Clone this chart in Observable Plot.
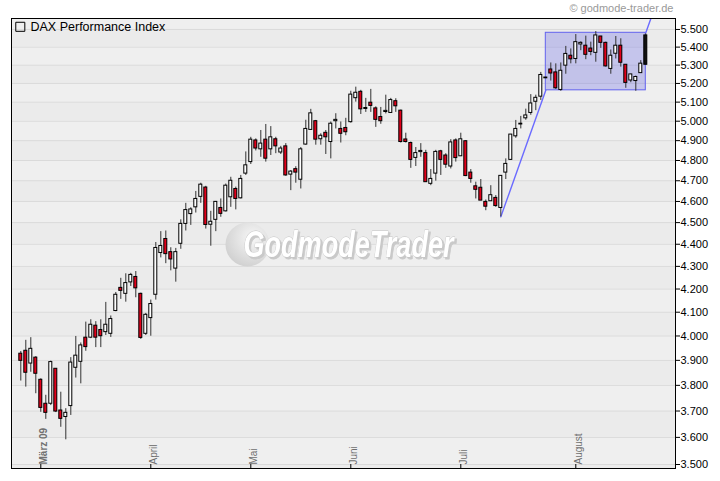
<!DOCTYPE html>
<html>
<head>
<meta charset="utf-8">
<script src="https://cdn.jsdelivr.net/npm/d3@7"></script>
<script src="https://cdn.jsdelivr.net/npm/@observablehq/plot@0.6"></script>
<style>
  body { margin: 0; background: #ffffff; }
  #chart svg { display: block; }
</style>
</head>
<body>
<div id="chart"></div>
<script>
// ---- Data (DAX daily candles, 24 Feb 2009 – 21 Aug 2009, one entry per trading day) ----
const openV = [
  3927,3939,3887,3911,3822,3728,3728,3866,3702,3677,
  3719,3870,3894,3993,3993,4043,4025,4016,4009,4105,
  4205,4179,4229,4253,4179,4009,4075,4175,4360,4424,
  4364,4290,4402,4494,4540,4572,4622,4667,4490,4513,
  4569,4553,4620,4660,4615,4735,4792,4901,4856,4905,
  4856,4907,4840,4871,4730,4757,4705,4880,4955,5000,
  4907,4940,4893,5000,4960,4965,4995,5121,5155,5064,
  5097,5067,5022,5048,5043,5105,5055,4906,4888,4813,
  4842,4837,4685,4735,4846,4825,4770,4901,4821,4897,
  4740,4673,4666,4598,4601,4617,4569,4740,4803,4922,
  4983,5015,5043,5102,5129,5228,5276,5260,5165,5297,
  5352,5334,5415,5408,5392,5368,5460,5424,5279,5363,
  5408,5302,5216,5213,5256,5302
];
const highV = [
  3936,3982,3993,3915,3826,3761,3897,3867,3773,3709,
  3911,3998,3971,4058,4068,4060,4068,4142,4084,4185,
  4247,4267,4269,4277,4182,4095,4152,4408,4458,4461,
  4384,4381,4513,4591,4570,4648,4688,4673,4553,4600,
  4612,4684,4717,4669,4726,4843,4917,4909,4952,4983,
  4972,4917,4871,4885,4750,4769,4865,5005,5062,5004,
  4935,4952,4996,5039,4996,5015,5158,5180,5163,5120,
  5168,5075,5072,5137,5120,5118,5058,4938,4893,4865,
  4885,4851,4755,4851,4851,4834,4905,4909,4938,4900,
  4755,4693,4706,4607,4676,4628,4724,4808,4931,5004,
  5025,5063,5140,5137,5260,5233,5312,5307,5312,5404,
  5390,5471,5430,5462,5428,5488,5460,5428,5384,5460,
  5447,5302,5250,5240,5325,5475
];
const lowV = [
  3817,3793,3852,3767,3695,3668,3721,3694,3638,3591,
  3683,3829,3806,3937,3989,3952,3952,4002,3994,4102,
  4155,4143,4211,4162,3986,4002,3999,4152,4338,4312,
  4280,4230,4377,4461,4487,4545,4591,4470,4391,4458,
  4525,4550,4572,4560,4612,4726,4780,4848,4816,4792,
  4825,4834,4830,4722,4652,4688,4660,4877,4952,4877,
  4877,4830,4808,4960,4888,4925,4990,5100,5035,5046,
  5046,4968,4984,5038,5043,5046,4888,4888,4761,4770,
  4816,4693,4676,4698,4726,4761,4758,4792,4821,4720,
  4688,4612,4604,4556,4601,4572,4527,4706,4800,4912,
  4960,5005,5031,5055,5109,5226,5213,5168,5158,5250,
  5307,5307,5380,5330,5352,5316,5393,5289,5250,5334,
  5289,5174,5204,5158,5256,5300
];
const closeV = [
  3898,3850,3947,3846,3712,3693,3893,3698,3670,3693,
  3891,3919,3961,3954,4047,3993,3999,4047,4071,4175,
  4192,4226,4262,4203,3992,4089,4135,4383,4392,4355,
  4331,4364,4494,4559,4562,4612,4681,4489,4504,4598,
  4541,4676,4700,4612,4709,4776,4905,4860,4885,4809,
  4917,4871,4860,4726,4745,4740,4856,4960,5041,4905,
  4925,4917,4987,5007,4935,4943,5140,5150,5062,5069,
  5080,5007,5000,5054,5111,5078,4893,4893,4803,4837,
  4848,4693,4709,4843,4803,4779,4891,4812,4907,4723,
  4709,4656,4604,4575,4630,4578,4724,4783,4931,4960,
  4987,5030,5093,5123,5246,5232,5254,5174,5269,5362,
  5332,5428,5424,5357,5373,5466,5424,5293,5352,5408,
  5313,5203,5249,5235,5308,5466
];

// Month starts (trading-day index) and their labels
const monthIdx = [4, 26, 46, 66, 88, 111];
const monthLabels = ["März 09", "April", "Mai", "Juni", "Juli", "August"];

// Y axis ticks
const yTicks = [3500,3600,3700,3800,3900,4000,4100,4200,4300,4400,4500,
                4600,4700,4800,4900,5000,5100,5200,5300,5400,5500];

// Flag / consolidation box (trading-day index and price bounds)
const flagIdx = [105, 125];
const flagPrice = [5163, 5481];

// Trend lines: flag pole and projected target
const poleIdx = [96, 105];
const polePrice = [4527, 5163];
const targetIdx = [125, 134];
const targetPrice = [5481, 6251];

const title = "DAX Performance Index";
const copyright = "© godmode-trader.de";
const watermark = "GodmodeTrader";

// ---- Derived tables ----
const candles = openV.map((o, i) => ({i, o, h: highV[i], l: lowV[i], c: closeV[i]}));
const lastI = candles.length - 1;
const months = monthIdx.map((i, k) => ({i, label: monthLabels[k]}));
const bands = [3400, ...yTicks].map((t, k) => ({lo: t, hi: t + 100, k}));
const flag = [{i1: flagIdx[0], i2: flagIdx[1], lo: flagPrice[0], hi: flagPrice[1]}];
const pole = poleIdx.map((i, k) => ({i, v: polePrice[k]}));
const target = targetIdx.map((i, k) => ({i, v: targetPrice[k]}));

const fmtDE = d3.formatLocale({decimal: ",", thousands: ".", grouping: [3], currency: ["", " €"]}).format(",d");

const chart = Plot.plot({
  width: 720,
  height: 481,
  marginLeft: 11,
  marginRight: 45,
  marginTop: 18,
  marginBottom: 13,
  style: {fontFamily: "'Liberation Sans', Arial, sans-serif", background: "#ffffff", overflow: "visible"},
  x: {type: "linear", domain: [-1.86, 130.94], axis: null},
  y: {type: "log", domain: [3485.5, 5563]},
  color: {type: "identity"},
  marks: [
    // alternating background bands
    Plot.rect(bands, {y1: "lo", y2: "hi", fill: d => d.k % 2 ? "#efefef" : "#ebebeb", clip: true}),
    Plot.ruleY(yTicks, {stroke: "#dadada", strokeWidth: 1}),
    // watermark
    Plot.dot([watermark], {frameAnchor: "middle", dx: -96, dy: 1, r: 22, fill: "url(#wmg)", stroke: "none"}),
    Plot.text([watermark], {text: d => d, frameAnchor: "middle", dx: -100, dy: 2, textAnchor: "start",
      fontSize: 36, fontWeight: "bold", fontStyle: "italic", fill: "#ffffff", stroke: "#c4c4c4", strokeWidth: 0.8, paintOrder: "stroke"}),
    // flag box and trend lines
    Plot.rect(flag, {x1: "i1", x2: "i2", y1: "lo", y2: "hi", fill: "#6464e6", fillOpacity: 0.3, stroke: "#6262ee", strokeWidth: 1}),
    Plot.line(pole, {x: "i", y: "v", stroke: "#6b6bff", strokeWidth: 1.4}),
    Plot.line(target, {x: "i", y: "v", stroke: "#6b6bff", strokeWidth: 1.4, clip: true}),
    // candles
    Plot.ruleX(candles, {x: "i", y1: "l", y2: "h", stroke: "#333333", strokeWidth: 1}),
    Plot.rect(candles, {
      x1: d => d.i - 0.3, x2: d => d.i + 0.3, y1: "o", y2: "c",
      fill: d => d.i === lastI ? "#111111" : (d.c >= d.o ? "#ffffff" : "#e2001a"),
      stroke: "#000000", strokeWidth: 1
    }),
    // month ticks and labels
    Plot.ruleX(months, {x: "i", stroke: "#000000", insetTop: 446}),
    Plot.text(months.slice(0, 1), {x: "i", text: "label", frameAnchor: "bottom", rotate: -90, textAnchor: "start",
      dx: 6, dy: -4, fontSize: 10, fontWeight: "bold", fill: "#707070"}),
    Plot.text(months.slice(1), {x: "i", text: "label", frameAnchor: "bottom", rotate: -90, textAnchor: "start",
      dx: 6, dy: -4, fontSize: 10, fill: "#707070"}),
    // frame and y axis
    Plot.frame({stroke: "#000000", strokeWidth: 1}),
    Plot.axisY(yTicks, {anchor: "right", tickFormat: fmtDE, tickSize: 4, tickPadding: 1, fontSize: 11,
      fill: "#000000", stroke: "#000000", label: null}),
    // legend / title and copyright
    Plot.dot([title], {frameAnchor: "top-left", dx: 8.8, dy: 8.3, symbol: "square", r: 5.1, fill: "none", stroke: "#000000", strokeWidth: 1}),
    Plot.text([title], {text: d => d, frameAnchor: "top-left", dx: 19, dy: 4, lineAnchor: "top", textAnchor: "start",
      fontSize: 12.5, fill: "#000000"}),
    Plot.text([copyright], {text: d => d, frameAnchor: "top-right", dx: -2, dy: -7, lineAnchor: "bottom", textAnchor: "end",
      fontSize: 11, fill: "#9a9a9a"})
  ]
});

// gradient for the watermark sphere, condensed watermark text with a soft shadow
const svgSel = d3.select(chart.tagName.toLowerCase() === "svg" ? chart : chart.querySelector("svg"));
const defs = svgSel.insert("defs", ":first-child");
const grad = defs.append("radialGradient").attr("id", "wmg").attr("cx", "0.62").attr("cy", "0.35").attr("r", "0.75");
grad.append("stop").attr("offset", "0").attr("stop-color", "#f7f7f7");
grad.append("stop").attr("offset", "1").attr("stop-color", "#cdcdcd");
svgSel.selectAll("text").filter(function () { return this.textContent === watermark; })
  .attr("textLength", 210).attr("lengthAdjust", "spacingAndGlyphs")
  .style("filter", "drop-shadow(2px 2px 0px #c9c9c9)");

document.getElementById("chart").appendChild(chart);
</script>
</body>
</html>
